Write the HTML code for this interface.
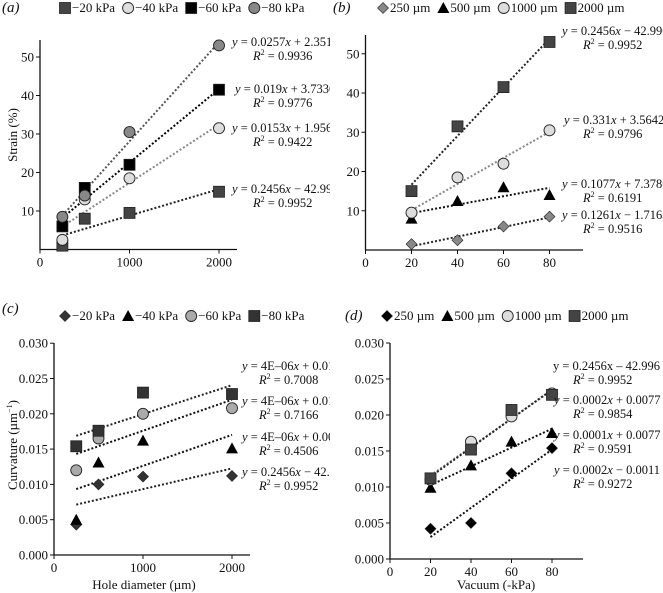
<!DOCTYPE html>
<html><head><meta charset="utf-8"><style>
html,body{margin:0;padding:0;background:#fff}
svg{display:block;font-family:"Liberation Serif",serif}
</style></head><body>
<svg id="fig" width="663" height="593" viewBox="0 0 663 593"></svg>
<script>
// Panel (a) strain vs hole diameter
const aCats=[250,500,1000,2000];
const aS20=[1,8,9.5,15];
const aS40=[2.5,13,18.5,31.5];
const aS60=[6,16,22,41.5];
const aS80=[8.5,14,30.5,53];
// Panel (b) strain vs vacuum
const bCats=[20,40,60,80];
const b250=[1.5,2.5,6,8.5];
const b500=[8,12.5,16,14];
const b1000=[9.5,18.5,22,30.5];
const b2000=[15,31.5,41.5,53];
// Panel (c) curvature vs hole diameter
const cCats=[250,500,1000,2000];
const c20=[0.0043,0.0100,0.0111,0.0112];
const c40=[0.0050,0.0131,0.0162,0.0151];
const c60=[0.0120,0.0165,0.0200,0.0208];
const c80=[0.0154,0.0176,0.0230,0.0228];
// Panel (d) curvature vs vacuum
const dCats=[20,40,60,80];
const d250=[0.0042,0.0050,0.0119,0.0154];
const d500=[0.0099,0.0130,0.0163,0.0175];
const d1000=[0.0110,0.0163,0.0198,0.0230];
const d2000=[0.0112,0.0152,0.0207,0.0228];
const aTicksX=[0,1000,2000], aTicksY=[10,20,30,40,50];
const bTicksX=[0,20,40,60,80], bTicksY=[10,20,30,40,50];
const cdTicksY=[0,0.005,0.010,0.015,0.020,0.025,0.030];
const NS="http://www.w3.org/2000/svg";
const fig=document.getElementById('fig');
function mk(tag,attrs,parent){const e=document.createElementNS(NS,tag);for(const k in attrs)e.setAttribute(k,attrs[k]);parent.appendChild(e);return e;}
function txt(parent,x,y,s,anchor,size,name){const t=mk('text',{x:x,y:y,'text-anchor':anchor||'middle','font-size':size||13,fill:'#111'},parent);t.innerHTML=s;

return t;}
function marker(g,type,x,y,fill,name){let e;
 if(type==='sq')e=mk('rect',{x:x-5.5,y:y-5.5,width:11,height:11,fill:fill,stroke:'#222','stroke-width':0.8},g);
 else if(type==='ci')e=mk('circle',{cx:x,cy:y,r:5.5,fill:fill,stroke:'#222','stroke-width':0.9},g);
 else if(type==='di')e=mk('polygon',{points:`${x},${y-5.5} ${x+5.5},${y} ${x},${y+5.5} ${x-5.5},${y}`,fill:fill,stroke:'#222','stroke-width':0.6},g);
 else e=mk('polygon',{points:`${x},${y-6} ${x+6},${y+5} ${x-6},${y+5}`,fill:fill},g);
 
 }
function fit(xs,ys){const n=xs.length;let mx=0,my=0;for(let i=0;i<n;i++){mx+=xs[i];my+=ys[i];}mx/=n;my/=n;let sxy=0,sxx=0;for(let i=0;i<n;i++){sxy+=(xs[i]-mx)*(ys[i]-my);sxx+=(xs[i]-mx)**2;}const b=sxy/sxx;return [b,my-b*mx];}
function panel(p){
 const g=mk('svg',{x:p.ox,y:0,width:p.w,height:593,overflow:'hidden'},fig);
 
 
 const X=v=>p.x0+(v-p.xmin)*p.xs, Y=v=>p.y0-(v-p.ymin)*p.ys;
 const ax=mk('path',{d:`M${p.x0},${p.ytop}V${p.y0}H${p.xend}`,stroke:'#111','stroke-width':1.3,fill:'none'},g);
 
 
 p.tx.forEach(v=>{mk('line',{x1:X(v),x2:X(v),y1:p.y0,y2:p.y0+4,stroke:'#111'},g);txt(g,X(v),p.y0+17,v,'middle',13,'x-tick-label');});
 p.ty.forEach(v=>{mk('line',{x1:p.x0-4,x2:p.x0,y1:Y(v),y2:Y(v),stroke:'#111'},g);txt(g,p.x0-6,Y(v)+4.5,p.fmt(v),'end',13,'y-tick-label');});
 p.series.forEach(s=>{const [b,a]=fit(p.cats,s.v);
  const l=mk('line',{x1:X(p.cats[0]),y1:Y(a+b*p.cats[0]),x2:X(p.cats[p.cats.length-1]),y2:Y(a+b*p.cats[p.cats.length-1]),stroke:s.lc,'stroke-width':2,'stroke-dasharray':'2 2'},g);
  
  
 });
 p.series.forEach(s=>{p.cats.forEach((c,i)=>marker(g,s.m,X(c),Y(s.v[i]),s.f,'point'));});
 txt(g,p.lab[0],p.lab[1],p.lab[2],'start',15,'panel-label').setAttribute('font-style','italic');
 let lx=p.leg[0];
 p.series.forEach(s=>{marker(g,s.m,lx+5,p.leg[1]-4,s.f,'legend-marker');const t=txt(g,lx+12,p.leg[1],s.n,'start',13,'legend-entry');lx+=12+t.getComputedTextLength()+8;});
 p.eq.forEach(e=>{txt(g,e[0],e[1],e[2],'start',12.5,'equation');txt(g,e[3],e[1]+14,'<tspan font-style="italic">R</tspan><tspan dy="-5" font-size="8">2</tspan><tspan dy="5"> = '+e[4]+'</tspan>','start',12.5,'r-squared');});
 return g;
}
const eqs=s=>s.replace(/x/g,'<tspan font-style="italic">x</tspan>').replace(/^y/,'<tspan font-style="italic">y</tspan>');
panel({name:'panel-a',ox:0,w:330,x0:40,xmin:0,xs:0.0895,xend:237,y0:249.5,ymin:0,ys:3.85,ytop:40,cats:aCats,tx:aTicksX,ty:aTicksY,fmt:v=>v,
 series:[{n:'−20 kPa',v:aS20,m:'sq',f:'#444',lc:'#222'},{n:'−40 kPa',v:aS40,m:'ci',f:'#ddd',lc:'#888'},{n:'−60 kPa',v:aS60,m:'sq',f:'#000',lc:'#000'},{n:'−80 kPa',v:aS80,m:'ci',f:'#888',lc:'#555'}],
 lab:[2,12,'(a)'],leg:[60,12],
 eq:[[232,46,eqs('y = 0.0257x + 2.3516'),253,'0.9936'],[235,93,eqs('y = 0.019x + 3.7336'),253,'0.9776'],[232,132,eqs('y = 0.0153x + 1.9567'),253,'0.9422'],[232,193,eqs('y = 0.2456x − 42.996'),253,'0.9952']]});
panel({name:'panel-b',ox:330,w:333,x0:35.5,xmin:0,xs:2.3,xend:253,y0:250,ymin:0,ys:3.925,ytop:35,cats:bCats,tx:bTicksX,ty:bTicksY,fmt:v=>v,
 series:[{n:'250 µm',v:b250,m:'di',f:'#888',lc:'#222'},{n:'500 µm',v:b500,m:'tr',f:'#000',lc:'#111'},{n:'1000 µm',v:b1000,m:'ci',f:'#ddd',lc:'#888'},{n:'2000 µm',v:b2000,m:'sq',f:'#444',lc:'#222'}],
 lab:[3,12,'(b)'],leg:[48,12],
 eq:[[232,35,eqs('y = 0.2456x − 42.996'),253,'0.9952'],[234,124,eqs('y = 0.331x + 3.5642'),253,'0.9796'],[232,188,eqs('y = 0.1077x + 7.3786'),253,'0.6191'],[232,219,eqs('y = 0.1261x − 1.7163'),253,'0.9516']]});
panel({name:'panel-c',ox:0,w:330,x0:54,xmin:0,xs:0.089,xend:250,y0:555,ymin:0,ys:7060,ytop:343,cats:cCats,tx:aTicksX,ty:cdTicksY,fmt:v=>v.toFixed(3),
 series:[{n:'−20 kPa',v:c20,m:'di',f:'#333',lc:'#222'},{n:'−40 kPa',v:c40,m:'tr',f:'#000',lc:'#111'},{n:'−60 kPa',v:c60,m:'ci',f:'#aaa',lc:'#111'},{n:'−80 kPa',v:c80,m:'sq',f:'#333',lc:'#222'}],
 lab:[2,313,'(c)'],leg:[60,320],
 eq:[[242,370,eqs('y = 4E–06x + 0.0158'),259,'0.7008'],[242,405,eqs('y = 4E–06x + 0.0132'),259,'0.7166'],[242,441,eqs('y = 4E–06x + 0.0083'),259,'0.4506'],[242,476,eqs('y = 0.2456x − 42.996'),259,'0.9952']]});
panel({name:'panel-d',ox:330,w:333,x0:60,xmin:0,xs:2.025,xend:253,y0:559,ymin:0,ys:7200,ytop:343,cats:dCats,tx:bTicksX,ty:cdTicksY,fmt:v=>v.toFixed(3),
 series:[{n:'250 µm',v:d250,m:'di',f:'#000',lc:'#111'},{n:'500 µm',v:d500,m:'tr',f:'#000',lc:'#111'},{n:'1000 µm',v:d1000,m:'ci',f:'#ddd',lc:'#888'},{n:'2000 µm',v:d2000,m:'sq',f:'#444',lc:'#222'}],
 lab:[15,320,'(d)'],leg:[52,320],
 eq:[[223,370,'y = 0.2456x – 42.996',243,'0.9952'],[224,404,eqs('y = 0.0002x + 0.0077'),243,'0.9854'],[224,439,eqs('y = 0.0001x + 0.0077'),243,'0.9591'],[224,474,eqs('y = 0.0002x − 0.0011'),243,'0.9272']]});
const t1=txt(fig,0,0,'Strain (%)','middle',13,'y-axis-title-strain');t1.setAttribute('transform','translate(17,135) rotate(-90)');
const t2=txt(fig,0,0,'Curvature (µm<tspan dy="-5" font-size="8">−1</tspan><tspan dy="5">)</tspan>','middle',13,'y-axis-title-curvature');t2.setAttribute('transform','translate(17,445) rotate(-90)');
txt(fig,144,589,'Hole diameter (µm)','middle',13,'x-axis-title-hole-diameter');
txt(fig,496,589,'Vacuum (-kPa)','middle',13,'x-axis-title-vacuum');
</script>
</body></html>
